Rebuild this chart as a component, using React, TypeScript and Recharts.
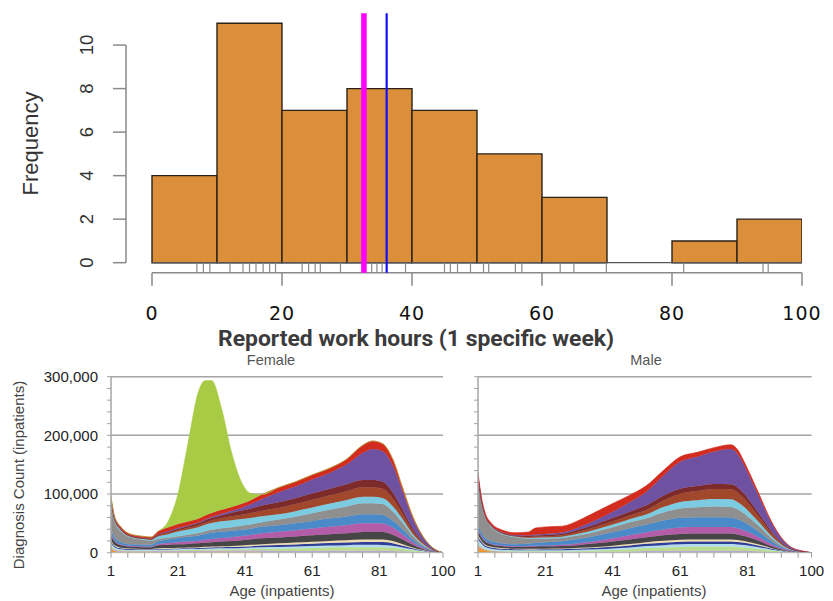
import React from 'react';
import {
  ComposedChart, Bar, XAxis, YAxis, ReferenceLine,
  AreaChart, Area, CartesianGrid,
} from 'recharts';

// ---------- top panel: reported work hours ----------
const hourBinStarts = [0, 10, 20, 30, 40, 50, 60, 70, 80, 90];
const hourBinWidth = 10;
const hourCounts = [4, 11, 7, 8, 7, 5, 3, 0, 1, 2];
const hourTicks = [0, 20, 40, 60, 80, 100];
const freqTicks = [0, 2, 4, 6, 8, 10];
const rugHours = [6.9, 7.9, 8.9, 12, 14, 15, 16, 17.1, 18.1, 19, 23.1, 24.1, 25.1, 25.9, 29, 32.6, 33.8, 34.6, 35.4, 39,
  45, 45.9, 47, 49, 51, 51.8, 55.9, 56.9, 62.8, 64.9, 69.9, 81.8, 94, 94.8];
const medianHours = 32.6;
const meanHours = 36.1;

// ---------- bottom panels: diagnosis count by age (thousands) ----------
const ageTicks = [1, 6, 11, 16, 21, 26, 31, 36, 41, 46, 51, 56, 61, 66, 71, 76, 81, 86, 91, 96, 100];
const ageLabels = [1, 21, 41, 61, 81, 100];
const countTicks = [0, 20, 40, 60, 80, 100, 120, 140, 160, 180, 200, 220, 240, 260, 280, 300];
const countLabels = [0, 100, 200, 300];

const femaleAges = [1, 2, 4, 7, 11, 13, 15, 18, 21, 24, 27, 29, 31, 34, 37, 40, 43, 46, 51, 56, 61, 66, 71, 76, 79, 82, 85, 88, 91, 94, 97, 100];
const fOrange = [8, 3, 1.5, 1.5, 1.5, 1.5, 1.5, 1.5, 1.5, 1.5, 1.5, 1.5, 1.5, 1.5, 1.5, 1.5, 1.5, 1.2, 0, 0, 0, 0, 0, 0, 0, 0, 0, 0, 0, 0, 0, 0];
const fLavender = [3, 2, 1.5, 1, 1, 1, 1.2, 1.3, 1.4, 1.5, 1.6, 1.7, 1.8, 1.9, 2, 2.1, 2.3, 2.5, 2.8, 3, 3.1, 3.2, 3.3, 3.4, 3.4, 3.3, 3, 2.4, 1.6, 0.8, 0.3, 0];
const fLightGreen = [2, 1.5, 1, 1, 1, 1, 1.2, 1.3, 1.4, 1.5, 1.6, 1.7, 1.8, 1.9, 2, 2.2, 2.5, 3, 4, 4.5, 5, 5.5, 5.8, 6, 6, 6, 5.5, 4, 2.5, 1.2, 0.4, 0];
const fLightBlue = [4, 3, 2, 1.5, 1.2, 1.2, 1.4, 1.5, 1.6, 1.7, 1.8, 1.9, 2, 2.1, 2.2, 2.3, 2.4, 2.6, 2.8, 3, 3.2, 3.5, 3.8, 4, 4, 4, 3.5, 2.6, 1.6, 0.8, 0.3, 0];
const fDarkBlue = [3, 2, 1.5, 1.2, 1, 1, 1.2, 1.3, 1.4, 1.5, 1.6, 1.7, 1.8, 1.9, 2, 2.2, 2.5, 2.8, 3.4, 3.6, 4, 4.3, 4.6, 5, 5, 5, 4.3, 3, 1.8, 0.9, 0.3, 0];
const fBeige = [2, 1.5, 1, 1, 0.8, 0.8, 1, 1, 1.2, 1.3, 1.4, 1.5, 1.6, 1.7, 1.8, 2, 2.2, 2.5, 3, 3.2, 3.4, 3.6, 3.8, 4, 4, 4, 3.5, 2.5, 1.5, 0.7, 0.2, 0];
const fDarkGray = [8, 6, 4, 3, 3, 3, 5, 5.5, 6, 6, 6.5, 7, 7.5, 8, 8.5, 9, 9.5, 10, 10, 10.5, 11, 11.5, 12, 13, 13, 13, 11, 8, 4.5, 2, 0.6, 0];
const fMagenta = [3, 2, 1.5, 1.2, 1.2, 1.2, 2, 3, 3.5, 4, 4.5, 5, 5.5, 6, 6.5, 7, 7.5, 8.5, 9.7, 10.5, 11.5, 12.5, 13.5, 15, 15, 14.5, 12, 8.5, 4.5, 2, 0.6, 0];
const fBlue = [6, 5, 4, 3, 3, 3, 5, 6, 7, 8, 9, 10, 10.5, 11, 11, 11, 11, 11, 11, 12, 13, 14, 14.5, 15, 15, 14.5, 12, 8.5, 4.5, 2, 0.6, 0];
const fGray = [45, 28, 18, 11, 8, 7, 4, 3, 3, 3.5, 4, 4.5, 5, 5.5, 6, 6.5, 7, 8, 9.7, 11, 13, 15, 17, 19, 19, 18.5, 15.5, 11, 6, 2.7, 0.8, 0];
const fCyan = [3, 2.5, 2, 1.5, 1.5, 1.5, 4, 6, 8, 9, 10, 11, 11.5, 12, 12, 11.5, 11, 10, 9, 9.5, 10, 10.5, 11, 11, 11, 10.5, 9, 6.5, 3.5, 1.6, 0.5, 0];
const fBrown = [2, 1.5, 1, 0.8, 0.8, 0.8, 1.5, 2, 2.5, 3, 3.5, 4, 4.5, 5.5, 6.5, 7.5, 8.5, 9.5, 11, 12, 13, 14, 15, 16, 16, 15.5, 13, 9, 5, 2.3, 0.6, 0];
const fDarkRed = [1, 1, 0.8, 0.6, 0.6, 0.6, 1.5, 2, 2.5, 2.5, 3, 3.5, 4, 5, 6, 7, 8, 9, 9.7, 10, 10.5, 11, 12, 12.5, 12.5, 12, 10.5, 7, 4, 1.8, 0.5, 0];
const fPurple = [1, 1, 0.7, 0.5, 0.5, 0.5, 0.5, 1, 1.5, 1.5, 1.5, 1.5, 2, 2.5, 3.5, 5, 7.5, 11, 17, 20, 24, 27, 33, 46, 53, 52, 46, 31, 17, 7.5, 2, 0];
const fRed = [4, 3, 3, 2.5, 2.5, 2.5, 5, 6.5, 6.5, 6.5, 6.5, 6.5, 6.5, 6.5, 6.5, 6.5, 7, 7.5, 8, 8, 8, 8, 9, 13, 13.5, 13, 11, 6, 3.5, 1.7, 0.5, 0];
const fPregnancy = [0, 0, 0, 0, 0, 0, 0, 10, 52, 135, 215, 230, 226, 172, 92, 36, 10, 0, 0, 0, 0, 0, 0, 0, 0, 0, 0, 0, 0, 0, 0, 0];

const maleAges = [1, 2, 3, 5, 8, 12, 16, 18, 21, 26, 31, 36, 41, 46, 51, 56, 61, 66, 71, 76, 78, 80, 82, 85, 88, 91, 94, 97, 100];
const mOrange = [10, 7, 4, 2, 1, 0.5, 0.3, 0.3, 0.3, 0.3, 0.3, 0.2, 0, 0, 0, 0, 0, 0, 0, 0, 0, 0, 0, 0, 0, 0, 0, 0, 0];
const mLavender = [3, 2, 1.6, 1.3, 1.1, 1, 1, 1, 1, 1, 1.2, 1.4, 1.7, 2.2, 2.8, 3.1, 3.3, 3.4, 3.4, 3.4, 3.3, 3, 2.7, 2, 1.3, 0.7, 0.3, 0.1, 0];
const mLightGreen = [2, 1.5, 1.2, 1, 1, 1, 1, 1, 1.1, 1.2, 1.5, 2, 2.8, 3.8, 5, 5.8, 6.5, 6.8, 6.8, 6.8, 6.5, 6, 5.3, 4, 2.5, 1.3, 0.5, 0.2, 0];
const mLightBlue = [8, 5, 3.5, 2.5, 2, 1.8, 1.8, 1.8, 1.8, 1.8, 2, 2.3, 2.7, 3, 3.5, 4, 4.4, 4.5, 4.5, 4.5, 4.3, 4, 3.5, 2.6, 1.6, 0.8, 0.3, 0.1, 0];
const mDarkBlue = [4, 3, 2.5, 2, 1.7, 1.5, 1.5, 1.5, 1.6, 1.7, 2, 2.4, 2.8, 3.3, 3.8, 4.2, 4.5, 4.5, 4.5, 4.5, 4.3, 4, 3.5, 2.6, 1.6, 0.8, 0.3, 0.1, 0];
const mBeige = [3, 2, 1.6, 1.3, 1.1, 1, 1, 1, 1, 1.1, 1.3, 1.6, 2, 2.4, 2.8, 3.1, 3.3, 3.4, 3.4, 3.4, 3.2, 3, 2.6, 1.9, 1.2, 0.6, 0.2, 0.1, 0];
const mDarkGray = [8, 6, 5, 4, 3.5, 3, 3.5, 3.8, 4, 4.3, 5, 6, 7, 8, 8.5, 9.5, 10, 10, 10, 10, 9.5, 8.5, 7.5, 5.5, 3.3, 1.6, 0.6, 0.2, 0];
const mMagenta = [3, 2, 1.6, 1.3, 1.1, 1, 1.2, 1.3, 1.5, 2, 2.8, 4, 5.5, 7, 8.5, 10, 11, 11, 11, 11, 10.5, 9.5, 8, 5.8, 3.4, 1.6, 0.6, 0.2, 0];
const mBlue = [8, 6, 5, 4, 3.5, 3.5, 4.5, 5, 5.5, 6, 7.5, 9, 10.5, 12, 13, 15, 16.5, 17, 17, 16.5, 15.5, 14, 12, 8.5, 5, 2.4, 0.8, 0.3, 0];
const mGray = [75, 50, 36, 24, 16, 12, 8, 7, 6, 5.5, 6, 7, 8.5, 10, 11, 14, 16, 17, 18, 18, 17, 15, 12.5, 9, 5.3, 2.5, 0.9, 0.3, 0];
const mCyan = [3, 2, 1.6, 1.3, 1.2, 1.2, 1.5, 1.8, 2, 2.3, 3, 3.8, 4.5, 5.3, 6.5, 9, 11, 12, 13, 13, 12.5, 11, 9, 6.3, 3.6, 1.7, 0.6, 0.2, 0];
const mBrown = [2, 1.5, 1.2, 1, 0.9, 1, 1.5, 2, 2.2, 2.5, 3.5, 4.5, 5.5, 6.5, 8, 11, 14, 15.5, 17, 17, 16.5, 14.5, 12, 8.5, 5, 2.4, 0.8, 0.3, 0];
const mDarkRed = [1, 1, 0.8, 0.7, 0.7, 0.8, 1.5, 2, 2.2, 2.5, 3.3, 4.5, 5.5, 6.5, 7.5, 8.5, 8.5, 8.5, 8.5, 8.5, 8.5, 8, 7, 5, 3, 1.4, 0.5, 0.2, 0];
const mPurple = [2, 1.5, 1, 0.8, 0.7, 0.7, 1, 1.5, 1.8, 2.5, 4, 7, 11, 16, 23, 34, 46, 50, 55, 60, 57, 48, 39, 26, 15, 7, 2.4, 0.8, 0];
const mRed = [5, 4.5, 3.5, 3, 3.5, 4, 6, 11, 12, 10.5, 12, 14, 14, 12, 10.5, 9, 8.5, 7.5, 7, 7.5, 7.5, 6.5, 6, 4.5, 2.5, 1.2, 0.4, 0.1, 0];

// stacking order, bottom to top
const layers = [
  { key: 'orange', color: '#f0962e' },
  { key: 'lavender', color: '#b8a7d3' },
  { key: 'lightGreen', color: '#b9dc8e' },
  { key: 'lightBlue', color: '#b4dbee' },
  { key: 'darkBlue', color: '#2e3f98' },
  { key: 'beige', color: '#f0dcb4' },
  { key: 'darkGray', color: '#464646' },
  { key: 'magenta', color: '#b35da9' },
  { key: 'blue', color: '#4a8ac8' },
  { key: 'gray', color: '#8f8f8f' },
  { key: 'cyan', color: '#7ccbe0' },
  { key: 'brown', color: '#a0472c' },
  { key: 'darkRed', color: '#7d2a2b' },
  { key: 'purple', color: '#6f51a1' },
  { key: 'red', color: '#d22c1e' },
];
const pregnancyLayer = { key: 'pregnancy', color: '#a8cb45' };

const femaleSeries: Record<string, number[]> = {
  orange: fOrange, lavender: fLavender, lightGreen: fLightGreen, lightBlue: fLightBlue, darkBlue: fDarkBlue,
  beige: fBeige, darkGray: fDarkGray, magenta: fMagenta, blue: fBlue, gray: fGray, cyan: fCyan,
  brown: fBrown, darkRed: fDarkRed, purple: fPurple, red: fRed, pregnancy: fPregnancy,
};
const maleSeries: Record<string, number[]> = {
  orange: mOrange, lavender: mLavender, lightGreen: mLightGreen, lightBlue: mLightBlue, darkBlue: mDarkBlue,
  beige: mBeige, darkGray: mDarkGray, magenta: mMagenta, blue: mBlue, gray: mGray, cyan: mCyan,
  brown: mBrown, darkRed: mDarkRed, purple: mPurple, red: mRed,
};

const buildRows = (ages: number[], series: Record<string, number[]>) =>
  ages.map((age, i) => {
    const row: Record<string, number> = { age };
    Object.keys(series).forEach(k => { row[k] = series[k][i]; });
    return row;
  });

// bars sit on a numeric axis, centred in their bin
const histRows = hourBinStarts.map((start, i) => ({ mid: start + hourBinWidth / 2, count: hourCounts[i] }));
const femaleRows = buildRows(femaleAges, femaleSeries);
const maleRows = buildRows(maleAges, maleSeries);

const SANS = 'Liberation Sans, Arial, Helvetica, sans-serif';
const AXIS_GRAY = '#8a8a8a';
const FREQ_MIN = -0.46;

// R style rotated y tick labels
const FreqTick = (props: any) => {
  const { x, y, payload } = props;
  return (
    <text transform={`translate(${x - 20},${y}) rotate(-90)`} textAnchor="middle"
      fontSize={18.5} fill="#333" fontFamily={SANS}>
      {payload.value}
    </text>
  );
};

const HourTick = (props: any) => {
  const { x, y, payload } = props;
  return (
    <text x={x} y={y} dy="0.71em" textAnchor="middle" fontSize={19}
      fontFamily="DejaVu Sans, sans-serif" letterSpacing={1} fill="#111">
      {payload.value}
    </text>
  );
};

const ageFormatter = (v: number) => (ageLabels.includes(v) ? String(v) : '');
const countFormatter = (v: number) => (countLabels.includes(v) ? (v * 1000).toLocaleString('en-US') : '');

function Histogram() {
  return (
    <ComposedChart width={833} height={350} data={histRows}
      margin={{ top: 13.3, right: 31, bottom: 17.3, left: 0 }} barCategoryGap={0} barGap={0}>
      <XAxis dataKey="mid" type="number" domain={[-4, 100]} ticks={hourTicks} interval={0} allowDataOverflow
        axisLine={false} tickLine={{ stroke: AXIS_GRAY, strokeWidth: 1.5 }} tickSize={13} tickMargin={21}
        height={60} tick={<HourTick />} />
      <YAxis type="number" domain={[FREQ_MIN, 11.46]} ticks={freqTicks} interval={0} allowDataOverflow width={126}
        axisLine={false} tickLine={{ stroke: AXIS_GRAY, strokeWidth: 1.5 }} tickSize={13} tickMargin={0}
        tick={<FreqTick />} />
      <ReferenceLine segment={[{ x: 0, y: 0 }, { x: 100, y: 0 }]} stroke="#555" strokeWidth={1.2} ifOverflow="visible" />
      <Bar dataKey="count" fill="#dc8f3a" stroke="#2a2118" strokeWidth={1.4} isAnimationActive={false} />
      {rugHours.map((v, i) => (
        <ReferenceLine key={i} segment={[{ x: v, y: FREQ_MIN }, { x: v, y: 0 }]}
          stroke={AXIS_GRAY} strokeWidth={1.2} ifOverflow="visible" />
      ))}
      <ReferenceLine segment={[{ x: -4, y: 0 }, { x: -4, y: 10 }]} stroke={AXIS_GRAY} strokeWidth={1.5} ifOverflow="visible" />
      <ReferenceLine segment={[{ x: 0, y: FREQ_MIN }, { x: 100, y: FREQ_MIN }]} stroke={AXIS_GRAY} strokeWidth={1.5} ifOverflow="visible" />
      <ReferenceLine x={medianHours} stroke="#ff00ff" strokeWidth={5.5} ifOverflow="visible" />
      <ReferenceLine x={meanHours} stroke="#1010ff" strokeWidth={2.2} ifOverflow="visible" />
    </ComposedChart>
  );
}

function AgePanel(props: { rows: any[]; stack: { key: string; color: string }[]; width: number; margin: any; yWidth: number; showY: boolean; id: string }) {
  const { rows, stack, width, margin, yWidth, showY, id } = props;
  return (
    <AreaChart width={width} height={251} data={rows} margin={margin}>
      <CartesianGrid vertical={false} horizontalValues={[100, 200, 300]} stroke="#a4a4a4" strokeWidth={1.5} />
      <XAxis dataKey="age" type="number" domain={[1, 100]} ticks={ageTicks} interval={0} allowDataOverflow
        tickFormatter={ageFormatter} axisLine={{ stroke: '#b5b5b5' }} tickLine={{ stroke: '#9a9a9a' }}
        tickSize={5} tickMargin={8} height={30} tick={{ fontSize: 15, fill: '#222', fontFamily: SANS }} />
      <YAxis type="number" domain={[0, 300]} ticks={countTicks} interval={0} allowDataOverflow width={yWidth}
        tickFormatter={showY ? countFormatter : () => ''} axisLine={{ stroke: '#a4a4a4', strokeWidth: 1.5 }}
        tickLine={{ stroke: '#a4a4a4' }} tickSize={4} tickMargin={9}
        tick={{ fontSize: 15, fill: '#222', fontFamily: SANS }} />
      {stack.map(l => (
        <Area key={l.key} type="monotone" dataKey={l.key} stackId={id} stroke={l.color} strokeWidth={0.6}
          fill={l.color} fillOpacity={1} dot={false} activeDot={false} isAnimationActive={false} />
      ))}
    </AreaChart>
  );
}

export default function App() {
  return (
    <div style={{ position: 'absolute', left: 0, top: 0, width: 833, height: 601, background: '#fff', overflow: 'hidden' }}>
      <div style={{ position: 'absolute', left: 0, top: 0 }}>
        <Histogram />
      </div>
      <div style={{ position: 'absolute', left: 0, top: 350 }}>
        <AgePanel id="f" rows={femaleRows} stack={[...layers, pregnancyLayer]} width={460}
          margin={{ top: 26.7, right: 17, bottom: 18.3, left: 30 }} yWidth={81} showY />
      </div>
      <div style={{ position: 'absolute', left: 460, top: 350 }}>
        <AgePanel id="m" rows={maleRows} stack={layers} width={373}
          margin={{ top: 26.7, right: 21.4, bottom: 18.3, left: 8 }} yWidth={10} showY={false} />
      </div>
      <svg width={833} height={601} style={{ position: 'absolute', left: 0, top: 0, pointerEvents: 'none' }}>
        <text transform="translate(37.5,143.5) rotate(-90)" textAnchor="middle" fontSize={22} fill="#333" fontFamily={SANS}>
          Frequency
        </text>
        <text x={218} y={346} textLength={396} lengthAdjust="spacingAndGlyphs" fontSize={22} fontWeight="bold"
          fill="#3b3b3b" fontFamily="Roboto, sans-serif">
          Reported work hours (1 specific week)
        </text>
        <text x={271} y={365} textAnchor="middle" fontSize={14.5} fill="#555" fontFamily={SANS}>Female</text>
        <text x={646} y={365} textAnchor="middle" fontSize={14.5} fill="#555" fontFamily={SANS}>Male</text>
        <text transform="translate(24,475) rotate(-90)" textAnchor="middle" fontSize={15} fill="#444" fontFamily={SANS}>
          Diagnosis Count (inpatients)
        </text>
        <text x={282} y={596} textAnchor="middle" fontSize={15} fill="#444" fontFamily={SANS}>Age (inpatients)</text>
        <text x={654} y={596} textAnchor="middle" fontSize={15} fill="#444" fontFamily={SANS}>Age (inpatients)</text>
      </svg>
    </div>
  );
}
